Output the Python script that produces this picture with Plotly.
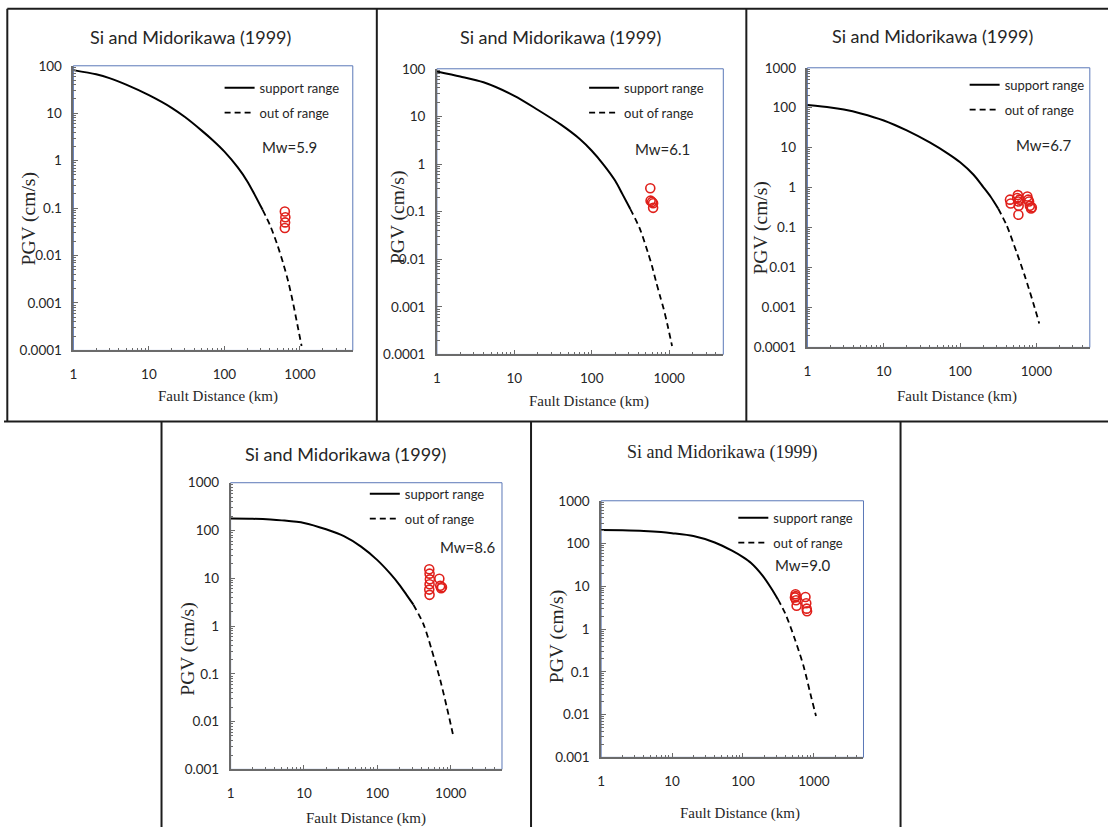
import plotly.graph_objects as go

W, H = 1108, 835
# measured mapping between figure pixels and the photographed page (offset, scale)
PX_OFF, PX_SCALE = 4.7, 0.995
PY_OFF, PY_SCALE = 9.35, 0.9786

# ---------------- text ----------------
title_text = "Si and Midorikawa (1999)"
x_title = "Fault Distance (km)"
y_title = "PGV (cm/s)"
legend_names = ["support range", "out of range"]
mw_labels = ["Mw=5.9", "Mw=6.1", "Mw=6.7", "Mw=8.6", "Mw=9.0"]

x_tick_vals = [1, 10, 100, 1000]
x_tick_text = ["1", "10", "100", "1000"]
y_tick_vals_p1 = [0.0001, 0.001, 0.01, 0.1, 1, 10, 100]
y_tick_text_p1 = ["0.0001", "0.001", "0.01", "0.1", "1", "10", "100"]
y_tick_vals_p3 = [0.0001, 0.001, 0.01, 0.1, 1, 10, 100, 1000]
y_tick_text_p3 = ["0.0001", "0.001", "0.01", "0.1", "1", "10", "100", "1000"]
y_tick_vals_p4 = [0.001, 0.01, 0.1, 1, 10, 100, 1000]
y_tick_text_p4 = ["0.001", "0.01", "0.1", "1", "10", "100", "1000"]

# ---------------- data ----------------
# Mw = 5.9
p1_solid_x = [1, 2, 3, 5, 10, 20, 30, 50, 70, 100, 150, 200, 250, 320]
p1_solid_y = [81, 66, 55, 40, 24, 13, 8.3, 4.3, 2.7, 1.55, 0.72, 0.37, 0.195, 0.092]
p1_dash_x = [320, 400, 500, 600, 700, 800, 900, 1050]
p1_dash_y = [0.092, 0.044, 0.017, 0.0068, 0.0028, 0.0011, 0.00043, 0.000124]
p1_obs_x = [630, 640, 635, 630]
p1_obs_y = [0.085, 0.064, 0.050, 0.038]

# Mw = 6.1
p2_solid_x = [1, 2, 4, 10, 20, 40, 70, 100, 140, 200, 250, 315]
p2_solid_y = [88, 69, 52, 27, 13.8, 6.7, 3.35, 1.9, 1.0, 0.45, 0.23, 0.113]
p2_dash_x = [315, 415, 530, 600, 680, 760, 850, 950, 1090]
p2_dash_y = [0.113, 0.045, 0.014, 0.0072, 0.0033, 0.0017, 0.0009, 0.00042, 0.00015]
p2_obs_x = [570, 575, 600, 620, 620]
p2_obs_y = [0.31, 0.17, 0.16, 0.15, 0.12]

# Mw = 6.7
p3_solid_x = [1, 2, 3, 5, 10, 20, 40, 70, 100, 150, 200, 250, 315]
p3_solid_y = [117, 102, 90, 72, 48, 27, 13.5, 7.0, 4.3, 2.1, 1.05, 0.6, 0.30]
p3_dash_x = [315, 406, 550, 707, 908, 1087]
p3_dash_y = [0.30, 0.115, 0.024, 0.006, 0.0013, 0.0004]
p3_obs_x = [450, 460, 560, 570, 580, 585, 600, 580, 760, 780, 800, 820, 850, 870]
p3_obs_y = [0.50, 0.40, 0.55, 0.65, 0.45, 0.35, 0.50, 0.21, 0.60, 0.50, 0.45, 0.35, 0.30, 0.32]

# Mw = 8.6
p4_solid_x = [1, 2, 3.5, 5, 10, 20, 35, 60, 100, 150, 200, 250, 310]
p4_solid_y = [178, 176, 170, 163, 144, 106, 76, 46, 24, 12.5, 7.3, 4.5, 2.8]
p4_dash_x = [310, 425, 550, 720, 885, 1070]
p4_dash_y = [2.8, 1.1, 0.32, 0.074, 0.020, 0.0055]
p4_obs_x = [510, 515, 520, 515, 510, 515, 700, 720, 760, 740]
p4_obs_y = [15.5, 12.5, 9.5, 7.5, 5.8, 4.5, 9.8, 7.0, 6.5, 6.2]

# Mw = 9.0
p5_solid_x = [1, 2, 4, 7, 10, 20, 40, 70, 100, 130, 190, 250, 310]
p5_solid_y = [208, 204, 197, 186, 175, 150, 106, 68, 48, 35, 17.5, 9.0, 5.0]
p5_dash_x = [310, 395, 545, 720, 890, 1070]
p5_dash_y = [5.0, 2.3, 0.55, 0.13, 0.031, 0.0093]
p5_obs_x = [540, 550, 560, 570, 555, 760, 780, 790, 800]
p5_obs_y = [5.5, 6.5, 4.7, 3.5, 5.9, 5.6, 4.0, 3.0, 2.6]

# ---------------- layout geometry (page pixels) ----------------
SANS = "Lato, Roboto, sans-serif"
SERIF = "Liberation Serif, serif"
TXT = "#262626"
AX = "#6b6b6b"

panels = [
    dict(sx=p1_solid_x, sy=p1_solid_y, dx=p1_dash_x, dy=p1_dash_y, ox=p1_obs_x, oy=p1_obs_y,
         area=(74, 353, 67, 351), yr=(-4, 2), yt=(y_tick_vals_p1, y_tick_text_p1),
         title=(191, 38, SANS), xt=(218, 397), ytl=(30, 220), mw=(260, 148), leg=(220, 89)),
    dict(sx=p2_solid_x, sy=p2_solid_y, dx=p2_dash_x, dy=p2_dash_y, ox=p2_obs_x, oy=p2_obs_y,
         area=(437, 723, 70, 355), yr=(-4, 2), yt=(y_tick_vals_p1, y_tick_text_p1),
         title=(560, 38, SANS), xt=(589, 402), ytl=(398, 218), mw=(633, 150), leg=(584, 89)),
    dict(sx=p3_solid_x, sy=p3_solid_y, dx=p3_dash_x, dy=p3_dash_y, ox=p3_obs_x, oy=p3_obs_y,
         area=(807, 1089, 69, 348), yr=(-4, 3), yt=(y_tick_vals_p3, y_tick_text_p3),
         title=(932, 37, SANS), xt=(956, 397), ytl=(761, 229), mw=(1013, 146), leg=(964, 86)),
    dict(sx=p4_solid_x, sy=p4_solid_y, dx=p4_dash_x, dy=p4_dash_y, ox=p4_obs_x, oy=p4_obs_y,
         area=(231, 502, 483, 769), yr=(-3, 3), yt=(y_tick_vals_p4, y_tick_text_p4),
         title=(346, 454, SANS), xt=(366, 818), ytl=(189, 649), mw=(438, 547), leg=(365, 494)),
    dict(sx=p5_solid_x, sy=p5_solid_y, dx=p5_dash_x, dy=p5_dash_y, ox=p5_obs_x, oy=p5_obs_y,
         area=(601, 863, 501, 757), yr=(-3, 3), yt=(y_tick_vals_p4, y_tick_text_p4),
         title=(722, 453, SERIF), xt=(740, 813), ytl=(557, 637), mw=(773, 565), leg=(733, 518)),
]


def fx(p):
    v = (p - PX_OFF) / PX_SCALE / W
    return min(max(v, 0.0), 1.0)


def fy(p):
    v = 1 - (p - PY_OFF) / PY_SCALE / H
    return min(max(v, 0.0), 1.0)


x_minor = [m * 10 ** e for e in range(0, 4) for m in range(2, 10) if m * 10 ** e <= 5000]

fig = go.Figure()
annotations = []
shapes = []

for i, p in enumerate(panels, start=1):
    xa = "x" if i == 1 else f"x{i}"
    ya = "y" if i == 1 else f"y{i}"
    lg = "legend" if i == 1 else f"legend{i}"

    fig.add_trace(go.Scatter(x=p["sx"], y=p["sy"], mode="lines", name=legend_names[0],
                             line=dict(color="black", width=2, shape="spline", smoothing=0.8),
                             xaxis=xa, yaxis=ya, legend=lg, legendgroup=f"s{i}"))
    fig.add_trace(go.Scatter(x=p["dx"], y=p["dy"], mode="lines", name=legend_names[1],
                             line=dict(color="black", width=1.8, dash="6px,4px", shape="spline", smoothing=0.8),
                             xaxis=xa, yaxis=ya, legend=lg, legendgroup=f"d{i}"))
    fig.add_trace(go.Scatter(x=p["ox"], y=p["oy"], mode="markers", name="observed",
                             marker=dict(symbol="circle-open", size=9, color="#e0201b",
                                         line=dict(width=1.6, color="#e0201b")),
                             xaxis=xa, yaxis=ya, showlegend=False))

    x0, x1, y0, y1 = p["area"]
    ylo, yhi = p["yr"]
    y_minor = [m * 10.0 ** e for e in range(ylo, yhi) for m in range(2, 10)]

    xkey = "xaxis" if i == 1 else f"xaxis{i}"
    ykey = "yaxis" if i == 1 else f"yaxis{i}"
    fig.update_layout(**{
        xkey: dict(type="log", range=[0, 3.699], domain=[fx(x0), fx(x1)], anchor=ya,
                   showline=True, linecolor=AX, linewidth=1.5, mirror=False,
                   ticks="inside", ticklen=5, tickcolor=AX, tickwidth=1,
                   tickmode="array", tickvals=x_tick_vals, ticktext=x_tick_text,
                   tickfont=dict(family=SANS, size=13.5, color=TXT), ticklabelstandoff=11,
                   showgrid=False, zeroline=False,
                   minor=dict(tickmode="array", tickvals=x_minor, ticks="inside", ticklen=3,
                              tickcolor=AX, showgrid=False)),
        ykey: dict(type="log", range=[ylo, yhi], domain=[fy(y1), fy(y0)], anchor=xa,
                   showline=True, linecolor=AX, linewidth=1.5,
                   ticks="inside", ticklen=5, tickcolor=AX, tickwidth=1,
                   tickmode="array", tickvals=p["yt"][0], ticktext=p["yt"][1],
                   tickfont=dict(family=SANS, size=13.5, color=TXT), ticklabelstandoff=7,
                   showgrid=False, zeroline=False,
                   minor=dict(tickmode="array", tickvals=y_minor, ticks="inside", ticklen=3,
                              tickcolor=AX, showgrid=False)),
        lg: dict(x=fx(p["leg"][0]), y=fy(p["leg"][1] - 15), xanchor="left", yanchor="top",
                 xref="paper", yref="paper", bgcolor="rgba(0,0,0,0)", borderwidth=0,
                 font=dict(family=SANS, size=13, color=TXT), tracegroupgap=5,
                 traceorder="grouped", itemwidth=30),
    })

    # plot-area border (thin blue, Excel style)
    shapes.append(dict(type="rect", xref=f"{xa} domain", yref=f"{ya} domain",
                       x0=0, x1=1, y0=0, y1=1, line=dict(color="#5b78b8", width=1), layer="below"))

    tx, ty, tfam = p["title"]
    annotations.append(dict(text=title_text, x=fx(tx), y=fy(ty), xref="paper", yref="paper",
                            showarrow=False, xanchor="center", yanchor="middle",
                            font=dict(family=tfam, size=18, color=TXT)))
    annotations.append(dict(text=x_title, x=fx(p["xt"][0]), y=fy(p["xt"][1]), xref="paper", yref="paper",
                            showarrow=False, xanchor="center", yanchor="middle",
                            font=dict(family=SERIF, size=15, color=TXT)))
    annotations.append(dict(text=y_title, x=fx(p["ytl"][0]), y=fy(p["ytl"][1]), xref="paper", yref="paper",
                            showarrow=False, xanchor="center", yanchor="middle", textangle=-90,
                            font=dict(family=SERIF, size=19.5, color=TXT)))
    annotations.append(dict(text=mw_labels[i - 1], x=fx(p["mw"][0]), y=fy(p["mw"][1]), xref="paper", yref="paper",
                            showarrow=False, xanchor="left", yanchor="middle",
                            font=dict(family=SANS, size=15, color=TXT)))

# outer frame lines of the composite figure (page pixels)
FR = "#1c1c1c"
frame_lines = [
    (8, 10, 1108, 10), (8, 10, 8, 422), (377, 10, 377, 422), (746, 10, 746, 422),
    (0, 422, 1108, 422), (162, 422, 162, 840), (531, 422, 531, 840), (900, 422, 900, 840),
]
for (a, b, c, d) in frame_lines:
    shapes.append(dict(type="line", xref="paper", yref="paper", x0=fx(a), y0=fy(b), x1=fx(c), y1=fy(d),
                       line=dict(color=FR, width=2)))

fig.update_layout(width=W, height=H, margin=dict(l=0, r=0, t=0, b=0),
                  paper_bgcolor="white", plot_bgcolor="white",
                  annotations=annotations, shapes=shapes)

fig.write_html("out.html")
